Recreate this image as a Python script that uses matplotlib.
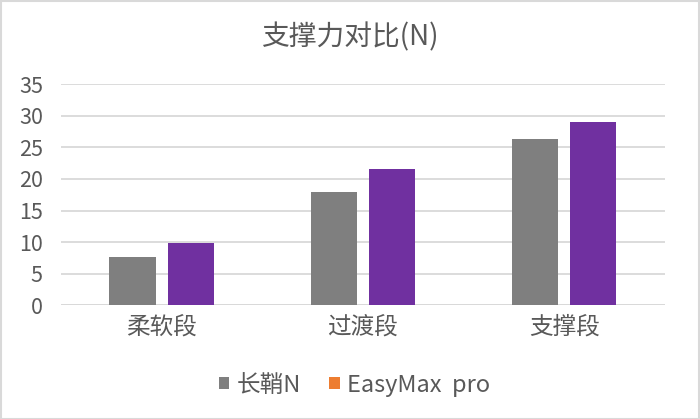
import numpy as np
import matplotlib
matplotlib.use('Agg')
import matplotlib.pyplot as plt
from matplotlib.patches import Patch, Rectangle

plt.rcParams['font.family'] = ['Noto Sans CJK SC', 'DejaVu Sans']

categories = ['柔软段', '过渡段', '支撑段']
series_names = ['长鞘N', 'EasyMax  pro']
changqiao = [7.7, 17.9, 26.3]
easymax = [9.9, 21.6, 29.0]
bar_colors = ['#7F7F7F', '#7030A0']
legend_colors = ['#7F7F7F', '#ED7D31']

text_color = '#595959'
grid_color = '#D9D9D9'

fig = plt.figure(figsize=(7, 4.19), dpi=100)
ax = fig.add_axes([0.087, 0.271, 0.863, 0.5285])

x = np.arange(len(categories))
w = 0.229
gap = 0.06
ax.bar(x - (w + gap) / 2, changqiao, width=w, color=bar_colors[0], zorder=3)
ax.bar(x + (w + gap) / 2, easymax, width=w, color=bar_colors[1], zorder=3)

ax.set_xlim(-0.5, 2.5)
ax.set_ylim(0, 35)
ax.set_yticks(np.arange(0, 36, 5))
ax.set_xticks(x)
ax.set_xticklabels(categories)
ax.yaxis.grid(True, color=grid_color, lw=1.3, zorder=0)
ax.tick_params(axis='both', length=0, colors=text_color)
ax.tick_params(axis='x', pad=7, labelsize=17)
ax.tick_params(axis='y', pad=13, labelsize=15.5)
for s in ax.spines.values():
    s.set_visible(False)
ax.axhline(0, color=grid_color, lw=1.3, zorder=2)

fig.text(0.5, 0.91, '支撑力对比(N)', ha='center', va='center', fontsize=20, color=text_color)

handles = [Patch(facecolor=c, edgecolor='none') for c in legend_colors]
fig.legend(handles, series_names, loc='center', bbox_to_anchor=(0.506, 0.081), ncol=2,
           frameon=False, fontsize=17, labelcolor=text_color, handlelength=0.45,
           handleheight=0.45, handletextpad=0.3, columnspacing=1.2)

fig.patches.append(Rectangle((0.001, 0.001), 0.997, 0.997, transform=fig.transFigure,
                             fill=False, edgecolor=grid_color, lw=1.5))

fig.savefig('out.png', dpi=100)
